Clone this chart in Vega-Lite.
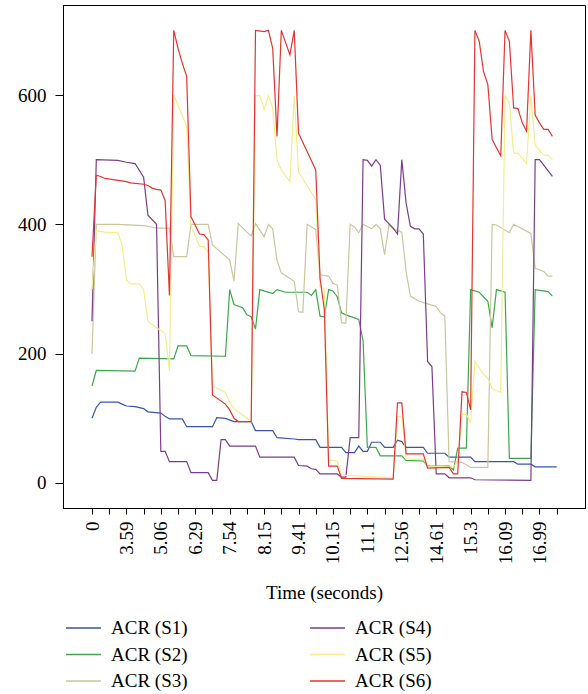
{
 "$schema": "https://vega.github.io/schema/vega-lite/v6.json",
 "width": 522, "height": 503,
 "autosize": {"type": "none"},
 "padding": {"left": 63, "top": 5, "right": 3, "bottom": 186},
 "config": {
  "font": "Liberation Serif",
  "view": {"stroke": "#000", "strokeWidth": 1},
  "axis": {"labelFont": "Liberation Serif", "titleFont": "Liberation Serif", "labelColor": "#000", "titleColor": "#000", "domainColor": "#000", "tickColor": "#000", "grid": false, "titleFontWeight": "normal"},
  "legend": {"labelFont": "Liberation Serif"}
 },
 "data": {"values": [
  {"s":"ACR (S1)","i":0,"v":100},{"s":"ACR (S1)","i":1,"v":117},{"s":"ACR (S1)","i":2,"v":125},{"s":"ACR (S1)","i":6,"v":125},{"s":"ACR (S1)","i":7,"v":122},{"s":"ACR (S1)","i":8,"v":119},{"s":"ACR (S1)","i":10,"v":118},{"s":"ACR (S1)","i":12,"v":115},{"s":"ACR (S1)","i":13,"v":110},{"s":"ACR (S1)","i":16,"v":108},{"s":"ACR (S1)","i":17,"v":103},{"s":"ACR (S1)","i":18,"v":99},{"s":"ACR (S1)","i":21,"v":99},{"s":"ACR (S1)","i":22,"v":87},{"s":"ACR (S1)","i":28,"v":87},{"s":"ACR (S1)","i":29,"v":101},{"s":"ACR (S1)","i":31,"v":100},{"s":"ACR (S1)","i":33,"v":95},{"s":"ACR (S1)","i":37,"v":95},{"s":"ACR (S1)","i":38,"v":81},{"s":"ACR (S1)","i":42,"v":81},{"s":"ACR (S1)","i":43,"v":70},{"s":"ACR (S1)","i":47,"v":68},{"s":"ACR (S1)","i":48,"v":67},{"s":"ACR (S1)","i":52,"v":67},{"s":"ACR (S1)","i":53,"v":55},{"s":"ACR (S1)","i":58,"v":55},{"s":"ACR (S1)","i":59,"v":47},{"s":"ACR (S1)","i":61,"v":47},{"s":"ACR (S1)","i":62,"v":57},{"s":"ACR (S1)","i":63,"v":49},{"s":"ACR (S1)","i":64,"v":49},{"s":"ACR (S1)","i":65,"v":63},{"s":"ACR (S1)","i":67,"v":63},{"s":"ACR (S1)","i":68,"v":55},{"s":"ACR (S1)","i":70,"v":55},{"s":"ACR (S1)","i":71,"v":66},{"s":"ACR (S1)","i":72,"v":64},{"s":"ACR (S1)","i":73,"v":55},{"s":"ACR (S1)","i":77,"v":55},{"s":"ACR (S1)","i":78,"v":46},{"s":"ACR (S1)","i":82,"v":46},{"s":"ACR (S1)","i":83,"v":40},{"s":"ACR (S1)","i":88,"v":40},{"s":"ACR (S1)","i":89,"v":33},{"s":"ACR (S1)","i":98,"v":33},{"s":"ACR (S1)","i":99,"v":29},{"s":"ACR (S1)","i":102,"v":29},{"s":"ACR (S1)","i":103,"v":25},{"s":"ACR (S1)","i":108,"v":25},

  {"s":"ACR (S2)","i":0,"v":150},{"s":"ACR (S2)","i":1,"v":174},{"s":"ACR (S2)","i":10,"v":173},{"s":"ACR (S2)","i":11,"v":193},{"s":"ACR (S2)","i":19,"v":192},{"s":"ACR (S2)","i":20,"v":212},{"s":"ACR (S2)","i":22,"v":212},{"s":"ACR (S2)","i":23,"v":197},{"s":"ACR (S2)","i":31,"v":196},{"s":"ACR (S2)","i":32,"v":299},{"s":"ACR (S2)","i":33,"v":276},{"s":"ACR (S2)","i":35,"v":271},{"s":"ACR (S2)","i":36,"v":260},{"s":"ACR (S2)","i":37,"v":257},{"s":"ACR (S2)","i":38,"v":238},{"s":"ACR (S2)","i":39,"v":299},{"s":"ACR (S2)","i":42,"v":293},{"s":"ACR (S2)","i":43,"v":299},{"s":"ACR (S2)","i":45,"v":295},{"s":"ACR (S2)","i":50,"v":295},{"s":"ACR (S2)","i":51,"v":290},{"s":"ACR (S2)","i":52,"v":299},{"s":"ACR (S2)","i":53,"v":258},{"s":"ACR (S2)","i":54,"v":257},{"s":"ACR (S2)","i":55,"v":299},{"s":"ACR (S2)","i":56,"v":297},{"s":"ACR (S2)","i":57,"v":288},{"s":"ACR (S2)","i":58,"v":263},{"s":"ACR (S2)","i":59,"v":260},{"s":"ACR (S2)","i":62,"v":253},{"s":"ACR (S2)","i":63,"v":220},{"s":"ACR (S2)","i":64,"v":55},{"s":"ACR (S2)","i":66,"v":55},{"s":"ACR (S2)","i":67,"v":42},{"s":"ACR (S2)","i":72,"v":42},{"s":"ACR (S2)","i":73,"v":35},{"s":"ACR (S2)","i":77,"v":34},{"s":"ACR (S2)","i":78,"v":26},{"s":"ACR (S2)","i":83,"v":26},{"s":"ACR (S2)","i":84,"v":20},{"s":"ACR (S2)","i":85,"v":54},{"s":"ACR (S2)","i":87,"v":54},{"s":"ACR (S2)","i":88,"v":299},{"s":"ACR (S2)","i":90,"v":295},{"s":"ACR (S2)","i":92,"v":281},{"s":"ACR (S2)","i":93,"v":240},{"s":"ACR (S2)","i":94,"v":299},{"s":"ACR (S2)","i":96,"v":295},{"s":"ACR (S2)","i":97,"v":38},{"s":"ACR (S2)","i":102,"v":38},{"s":"ACR (S2)","i":103,"v":299},{"s":"ACR (S2)","i":106,"v":296},{"s":"ACR (S2)","i":107,"v":289},

  {"s":"ACR (S3)","i":0,"v":200},{"s":"ACR (S3)","i":1,"v":400},{"s":"ACR (S3)","i":6,"v":400},{"s":"ACR (S3)","i":12,"v":398},{"s":"ACR (S3)","i":13,"v":397},{"s":"ACR (S3)","i":15,"v":394},{"s":"ACR (S3)","i":18,"v":394},{"s":"ACR (S3)","i":19,"v":350},{"s":"ACR (S3)","i":22,"v":350},{"s":"ACR (S3)","i":23,"v":400},{"s":"ACR (S3)","i":27,"v":400},{"s":"ACR (S3)","i":28,"v":368},{"s":"ACR (S3)","i":32,"v":345},{"s":"ACR (S3)","i":33,"v":312},{"s":"ACR (S3)","i":34,"v":401},{"s":"ACR (S3)","i":36,"v":388},{"s":"ACR (S3)","i":37,"v":382},{"s":"ACR (S3)","i":38,"v":401},{"s":"ACR (S3)","i":40,"v":381},{"s":"ACR (S3)","i":41,"v":400},{"s":"ACR (S3)","i":42,"v":393},{"s":"ACR (S3)","i":43,"v":344},{"s":"ACR (S3)","i":44,"v":325},{"s":"ACR (S3)","i":47,"v":312},{"s":"ACR (S3)","i":48,"v":265},{"s":"ACR (S3)","i":49,"v":264},{"s":"ACR (S3)","i":50,"v":400},{"s":"ACR (S3)","i":52,"v":392},{"s":"ACR (S3)","i":53,"v":322},{"s":"ACR (S3)","i":55,"v":320},{"s":"ACR (S3)","i":56,"v":309},{"s":"ACR (S3)","i":57,"v":306},{"s":"ACR (S3)","i":58,"v":248},{"s":"ACR (S3)","i":59,"v":247},{"s":"ACR (S3)","i":60,"v":400},{"s":"ACR (S3)","i":61,"v":396},{"s":"ACR (S3)","i":62,"v":387},{"s":"ACR (S3)","i":63,"v":400},{"s":"ACR (S3)","i":65,"v":393},{"s":"ACR (S3)","i":66,"v":400},{"s":"ACR (S3)","i":67,"v":393},{"s":"ACR (S3)","i":68,"v":353},{"s":"ACR (S3)","i":69,"v":399},{"s":"ACR (S3)","i":70,"v":393},{"s":"ACR (S3)","i":72,"v":388},{"s":"ACR (S3)","i":73,"v":327},{"s":"ACR (S3)","i":74,"v":289},{"s":"ACR (S3)","i":76,"v":281},{"s":"ACR (S3)","i":78,"v":277},{"s":"ACR (S3)","i":80,"v":273},{"s":"ACR (S3)","i":81,"v":263},{"s":"ACR (S3)","i":82,"v":258},{"s":"ACR (S3)","i":83,"v":33},{"s":"ACR (S3)","i":86,"v":32},{"s":"ACR (S3)","i":88,"v":24},{"s":"ACR (S3)","i":92,"v":24},{"s":"ACR (S3)","i":93,"v":400},{"s":"ACR (S3)","i":94,"v":399},{"s":"ACR (S3)","i":97,"v":387},{"s":"ACR (S3)","i":98,"v":400},{"s":"ACR (S3)","i":102,"v":386},{"s":"ACR (S3)","i":103,"v":332},{"s":"ACR (S3)","i":105,"v":327},{"s":"ACR (S3)","i":106,"v":320},{"s":"ACR (S3)","i":107,"v":320},

  {"s":"ACR (S4)","i":0,"v":250},{"s":"ACR (S4)","i":1,"v":500},{"s":"ACR (S4)","i":6,"v":499},{"s":"ACR (S4)","i":8,"v":496},{"s":"ACR (S4)","i":10,"v":494},{"s":"ACR (S4)","i":12,"v":473},{"s":"ACR (S4)","i":13,"v":414},{"s":"ACR (S4)","i":15,"v":400},{"s":"ACR (S4)","i":16,"v":49},{"s":"ACR (S4)","i":17,"v":49},{"s":"ACR (S4)","i":18,"v":33},{"s":"ACR (S4)","i":22,"v":33},{"s":"ACR (S4)","i":23,"v":16},{"s":"ACR (S4)","i":27,"v":16},{"s":"ACR (S4)","i":28,"v":4},{"s":"ACR (S4)","i":29,"v":4},{"s":"ACR (S4)","i":30,"v":67},{"s":"ACR (S4)","i":31,"v":67},{"s":"ACR (S4)","i":32,"v":57},{"s":"ACR (S4)","i":38,"v":57},{"s":"ACR (S4)","i":39,"v":40},{"s":"ACR (S4)","i":47,"v":40},{"s":"ACR (S4)","i":48,"v":27},{"s":"ACR (S4)","i":50,"v":26},{"s":"ACR (S4)","i":51,"v":22},{"s":"ACR (S4)","i":52,"v":21},{"s":"ACR (S4)","i":53,"v":14},{"s":"ACR (S4)","i":57,"v":14},{"s":"ACR (S4)","i":58,"v":9},{"s":"ACR (S4)","i":59,"v":9},{"s":"ACR (S4)","i":60,"v":70},{"s":"ACR (S4)","i":62,"v":70},{"s":"ACR (S4)","i":63,"v":500},{"s":"ACR (S4)","i":64,"v":499},{"s":"ACR (S4)","i":65,"v":490},{"s":"ACR (S4)","i":66,"v":500},{"s":"ACR (S4)","i":67,"v":491},{"s":"ACR (S4)","i":68,"v":408},{"s":"ACR (S4)","i":70,"v":394},{"s":"ACR (S4)","i":71,"v":385},{"s":"ACR (S4)","i":72,"v":500},{"s":"ACR (S4)","i":73,"v":433},{"s":"ACR (S4)","i":74,"v":397},{"s":"ACR (S4)","i":75,"v":393},{"s":"ACR (S4)","i":76,"v":393},{"s":"ACR (S4)","i":77,"v":385},{"s":"ACR (S4)","i":78,"v":188},{"s":"ACR (S4)","i":79,"v":180},{"s":"ACR (S4)","i":80,"v":14},{"s":"ACR (S4)","i":82,"v":14},{"s":"ACR (S4)","i":83,"v":8},{"s":"ACR (S4)","i":88,"v":8},{"s":"ACR (S4)","i":89,"v":5},{"s":"ACR (S4)","i":102,"v":4},{"s":"ACR (S4)","i":103,"v":500},{"s":"ACR (S4)","i":104,"v":500},{"s":"ACR (S4)","i":107,"v":474},

  {"s":"ACR (S5)","i":0,"v":300},{"s":"ACR (S5)","i":1,"v":390},{"s":"ACR (S5)","i":3,"v":388},{"s":"ACR (S5)","i":6,"v":387},{"s":"ACR (S5)","i":7,"v":368},{"s":"ACR (S5)","i":8,"v":314},{"s":"ACR (S5)","i":9,"v":308},{"s":"ACR (S5)","i":11,"v":308},{"s":"ACR (S5)","i":12,"v":299},{"s":"ACR (S5)","i":13,"v":250},{"s":"ACR (S5)","i":15,"v":240},{"s":"ACR (S5)","i":17,"v":231},{"s":"ACR (S5)","i":18,"v":173},{"s":"ACR (S5)","i":19,"v":600},{"s":"ACR (S5)","i":22,"v":552},{"s":"ACR (S5)","i":23,"v":398},{"s":"ACR (S5)","i":25,"v":366},{"s":"ACR (S5)","i":26,"v":366},{"s":"ACR (S5)","i":27,"v":357},{"s":"ACR (S5)","i":28,"v":150},{"s":"ACR (S5)","i":31,"v":140},{"s":"ACR (S5)","i":32,"v":125},{"s":"ACR (S5)","i":33,"v":115},{"s":"ACR (S5)","i":34,"v":110},{"s":"ACR (S5)","i":37,"v":95},{"s":"ACR (S5)","i":38,"v":599},{"s":"ACR (S5)","i":39,"v":599},{"s":"ACR (S5)","i":40,"v":578},{"s":"ACR (S5)","i":41,"v":599},{"s":"ACR (S5)","i":42,"v":580},{"s":"ACR (S5)","i":43,"v":500},{"s":"ACR (S5)","i":44,"v":484},{"s":"ACR (S5)","i":46,"v":466},{"s":"ACR (S5)","i":47,"v":599},{"s":"ACR (S5)","i":48,"v":481},{"s":"ACR (S5)","i":52,"v":438},{"s":"ACR (S5)","i":53,"v":304},{"s":"ACR (S5)","i":54,"v":300},{"s":"ACR (S5)","i":55,"v":36},{"s":"ACR (S5)","i":57,"v":34},{"s":"ACR (S5)","i":58,"v":12},{"s":"ACR (S5)","i":70,"v":8},{"s":"ACR (S5)","i":71,"v":103},{"s":"ACR (S5)","i":72,"v":102},{"s":"ACR (S5)","i":73,"v":37},{"s":"ACR (S5)","i":77,"v":37},{"s":"ACR (S5)","i":78,"v":26},{"s":"ACR (S5)","i":84,"v":25},{"s":"ACR (S5)","i":85,"v":33},{"s":"ACR (S5)","i":86,"v":106},{"s":"ACR (S5)","i":87,"v":106},{"s":"ACR (S5)","i":88,"v":94},{"s":"ACR (S5)","i":89,"v":188},{"s":"ACR (S5)","i":90,"v":178},{"s":"ACR (S5)","i":91,"v":168},{"s":"ACR (S5)","i":92,"v":162},{"s":"ACR (S5)","i":93,"v":146},{"s":"ACR (S5)","i":95,"v":140},{"s":"ACR (S5)","i":96,"v":599},{"s":"ACR (S5)","i":97,"v":588},{"s":"ACR (S5)","i":98,"v":510},{"s":"ACR (S5)","i":99,"v":510},{"s":"ACR (S5)","i":101,"v":494},{"s":"ACR (S5)","i":102,"v":599},{"s":"ACR (S5)","i":103,"v":522},{"s":"ACR (S5)","i":105,"v":507},{"s":"ACR (S5)","i":106,"v":507},{"s":"ACR (S5)","i":107,"v":500},

  {"s":"ACR (S6)","i":0,"v":350},{"s":"ACR (S6)","i":1,"v":476},{"s":"ACR (S6)","i":2,"v":474},{"s":"ACR (S6)","i":3,"v":471},{"s":"ACR (S6)","i":8,"v":466},{"s":"ACR (S6)","i":9,"v":464},{"s":"ACR (S6)","i":12,"v":462},{"s":"ACR (S6)","i":13,"v":460},{"s":"ACR (S6)","i":14,"v":456},{"s":"ACR (S6)","i":15,"v":454},{"s":"ACR (S6)","i":16,"v":453},{"s":"ACR (S6)","i":17,"v":437},{"s":"ACR (S6)","i":18,"v":290},{"s":"ACR (S6)","i":19,"v":700},{"s":"ACR (S6)","i":20,"v":672},{"s":"ACR (S6)","i":21,"v":649},{"s":"ACR (S6)","i":22,"v":629},{"s":"ACR (S6)","i":23,"v":412},{"s":"ACR (S6)","i":25,"v":385},{"s":"ACR (S6)","i":26,"v":384},{"s":"ACR (S6)","i":27,"v":376},{"s":"ACR (S6)","i":28,"v":136},{"s":"ACR (S6)","i":31,"v":122},{"s":"ACR (S6)","i":32,"v":113},{"s":"ACR (S6)","i":33,"v":100},{"s":"ACR (S6)","i":34,"v":95},{"s":"ACR (S6)","i":37,"v":95},{"s":"ACR (S6)","i":38,"v":700},{"s":"ACR (S6)","i":40,"v":698},{"s":"ACR (S6)","i":41,"v":700},{"s":"ACR (S6)","i":42,"v":672},{"s":"ACR (S6)","i":43,"v":536},{"s":"ACR (S6)","i":44,"v":700},{"s":"ACR (S6)","i":46,"v":662},{"s":"ACR (S6)","i":47,"v":700},{"s":"ACR (S6)","i":48,"v":541},{"s":"ACR (S6)","i":52,"v":484},{"s":"ACR (S6)","i":53,"v":317},{"s":"ACR (S6)","i":54,"v":268},{"s":"ACR (S6)","i":55,"v":26},{"s":"ACR (S6)","i":57,"v":26},{"s":"ACR (S6)","i":58,"v":7},{"s":"ACR (S6)","i":70,"v":6},{"s":"ACR (S6)","i":71,"v":124},{"s":"ACR (S6)","i":72,"v":124},{"s":"ACR (S6)","i":73,"v":45},{"s":"ACR (S6)","i":77,"v":45},{"s":"ACR (S6)","i":78,"v":23},{"s":"ACR (S6)","i":83,"v":24},{"s":"ACR (S6)","i":84,"v":14},{"s":"ACR (S6)","i":85,"v":14},{"s":"ACR (S6)","i":86,"v":141},{"s":"ACR (S6)","i":87,"v":140},{"s":"ACR (S6)","i":88,"v":113},{"s":"ACR (S6)","i":89,"v":700},{"s":"ACR (S6)","i":90,"v":683},{"s":"ACR (S6)","i":91,"v":636},{"s":"ACR (S6)","i":92,"v":616},{"s":"ACR (S6)","i":93,"v":531},{"s":"ACR (S6)","i":95,"v":506},{"s":"ACR (S6)","i":96,"v":700},{"s":"ACR (S6)","i":97,"v":683},{"s":"ACR (S6)","i":98,"v":580},{"s":"ACR (S6)","i":99,"v":579},{"s":"ACR (S6)","i":100,"v":557},{"s":"ACR (S6)","i":101,"v":544},{"s":"ACR (S6)","i":102,"v":700},{"s":"ACR (S6)","i":103,"v":569},{"s":"ACR (S6)","i":104,"v":557},{"s":"ACR (S6)","i":105,"v":547},{"s":"ACR (S6)","i":106,"v":547},{"s":"ACR (S6)","i":107,"v":536}
 ]},
 "mark": {"type": "line", "strokeWidth": 1.2},
 "encoding": {
  "x": {"field": "i", "type": "quantitative",
   "scale": {"domain": [-6.74, 114.58], "nice": false, "zero": false},
   "axis": {"values": [0,4,8,12,16,20,24,28,32,36,40,44,48,52,56,60,64,68,72,76,80,84,88,92,96,100,104,108],
    "labelExpr": "datum.value % 8 == 0 ? ['0','3.59','5.06','6.29','7.54','8.15','9.41','10.15','11.1','12.56','14.61','15.3','16.09','16.99'][datum.value / 8] : ''",
    "labelAngle": -90, "labelAlign": "right", "labelBaseline": "middle", "labelFontSize": 19, "labelPadding": 7, "tickSize": 6,
    "title": "Time (seconds)", "titleFontSize": 19, "titlePadding": 20, "labelOverlap": false}},
  "y": {"field": "v", "type": "quantitative",
   "scale": {"domain": [-38.7, 739.2], "nice": false, "zero": false},
   "axis": {"values": [0,200,400,600], "title": null, "labelFontSize": 19, "tickSize": 8, "labelPadding": 9}},
  "color": {"field": "s", "type": "nominal",
   "scale": {"domain": ["ACR (S1)","ACR (S2)","ACR (S3)","ACR (S4)","ACR (S5)","ACR (S6)"],
    "range": ["#3a55a8","#3aa84a","#c9c79d","#7b3d8a","#f3ee8a","#e3342f"]},
   "legend": {"orient": "none", "legendX": 9.5, "legendY": 612, "columns": 2, "title": null,
    "symbolType": "M-1.75,0H1.75", "symbolSize": 400, "symbolStrokeWidth": 1.5,
    "labelFont": "Liberation Serif", "labelFontSize": 19, "labelColor": "#000", "labelOffset": 16.5,
    "rowPadding": 5.5, "columnPadding": 118}}
 }
}
